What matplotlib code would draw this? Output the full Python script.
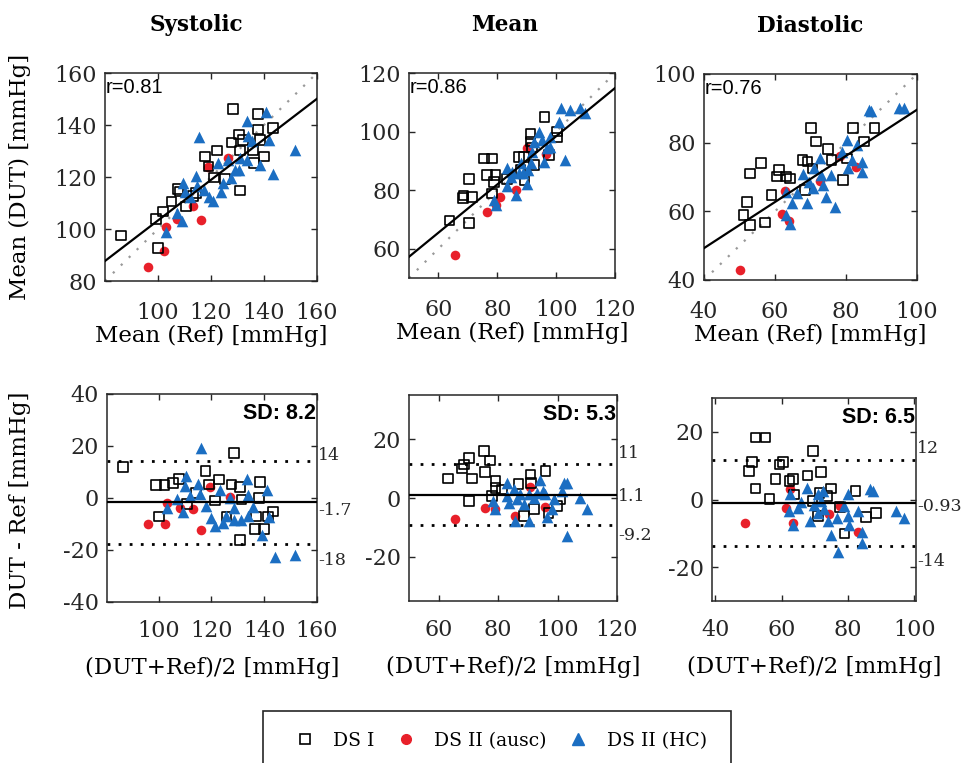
import matplotlib
matplotlib.use("Agg")
import matplotlib.pyplot as plt
from matplotlib.lines import Line2D
from matplotlib.patches import Rectangle

plt.rcParams['font.family'] = ['DejaVu Serif']
plt.rcParams['axes.unicode_minus'] = False

# ---------------- data ----------------
# Systolic: correlation (Ref vs DUT)
sys_ds1_ref = [86.0, 100.1, 99.2, 102.0, 105.1, 107.6, 110.5, 114.3, 117.7, 119.0, 121.1, 122.3, 125.2, 128.4,
               127.7, 130.6, 130.9, 130.9, 132.1, 135.9, 136.2, 137.8, 137.8, 139.9, 143.4, 138.4, 108.3, 113.3]
sys_ds1_dut = [97.5, 92.6, 103.8, 106.7, 110.6, 115.3, 108.7, 113.8, 127.9, 124.0, 119.8, 130.2, 119.2, 146.1,
               133.3, 136.3, 130.2, 114.8, 134.3, 130.2, 125.3, 144.3, 138.2, 127.9, 138.8, 134.3, 114.4, 112.8]
sys_au_ref = [96.1, 102.2, 103.0, 107.3, 113.3, 116.1, 119.0, 126.5]
sys_au_dut = [85.3, 91.6, 100.7, 103.8, 108.7, 103.5, 123.8, 127.3]
sys_hc_ref = [103.0, 107.0, 109.0, 109.5, 110.2, 112.0, 114.5, 114.9, 115.5, 117.4, 119.4, 120.6, 122.5, 123.8,
              124.6, 126.3, 127.7, 130.6, 133.4, 133.6, 134.0, 135.3, 138.4, 140.9, 141.9, 143.4, 151.6, 130.9, 129.0]
sys_hc_dut = [99.0, 106.0, 102.9, 117.6, 114.4, 112.5, 120.2, 116.4, 135.4, 115.0, 112.5, 110.6, 125.3, 114.4,
              117.6, 126.6, 119.6, 122.8, 141.4, 126.6, 135.6, 133.7, 124.7, 144.9, 134.3, 121.2, 130.5, 127.3, 122.8]

# Mean: correlation
mean_ds1_ref = [63.7, 68.5, 68.3, 71.5, 70.4, 70.4, 75.5, 78.3, 76.4, 79.4, 78.9, 78.3, 87.3, 89.0, 89.2, 91.3,
                91.3, 92.4, 96.0, 97.5, 100.3, 100.3, 87.9, 83.4, 91.8]
mean_ds1_dut = [69.6, 78.2, 77.3, 77.6, 83.9, 68.7, 90.8, 90.8, 85.1, 85.1, 82.8, 78.8, 91.4, 91.4, 83.4, 96.6,
                99.2, 88.5, 104.9, 92.0, 100.0, 98.0, 86.8, 83.9, 94.6]
mean_au_ref = [65.7, 76.4, 79.4, 80.9, 86.2, 90.1, 96.7]
mean_au_dut = [57.8, 72.7, 74.8, 77.6, 79.9, 94.3, 92.3]
mean_hc_ref = [78.9, 79.4, 83.4, 83.4, 84.5, 86.2, 87.3, 87.9, 90.1, 90.4, 91.3, 91.8, 94.1, 95.2, 95.8, 96.9,
               98.0, 98.0, 101.0, 101.8, 102.9, 104.8, 108.2, 109.9, 92.4, 88.8, 85.1]
mean_hc_dut = [76.7, 74.8, 81.3, 87.7, 84.5, 78.2, 85.7, 89.1, 82.2, 86.8, 89.1, 93.1, 100.0, 97.1, 89.7, 94.3,
               94.8, 98.3, 103.4, 108.0, 90.3, 107.5, 108.0, 106.5, 96.6, 85.7, 86.2]

# Diastolic: correlation
dia_ds1_ref = [51.1, 52.1, 53.0, 53.0, 56.1, 57.1, 59.0, 60.5, 61.2, 63.1, 64.3, 67.7, 70.1, 71.6, 69.2, 75.0,
               75.9, 79.1, 80.3, 82.0, 85.1, 88.0, 70.6, 68.5]
dia_ds1_dut = [58.9, 62.8, 56.0, 71.0, 74.0, 56.7, 64.7, 70.1, 72.0, 70.1, 69.6, 74.9, 84.2, 80.3, 74.5, 78.1,
               74.9, 69.1, 75.4, 84.2, 80.3, 84.2, 72.5, 66.2]
dia_au_ref = [50.1, 62.1, 62.9, 63.9, 72.6, 78.2, 82.7]
dia_au_dut = [42.8, 59.2, 66.0, 57.2, 68.9, 76.1, 73.0]
dia_hc_ref = [63.1, 64.3, 63.1, 64.8, 66.3, 67.9, 68.9, 69.7, 70.6, 71.1, 72.6, 73.5, 74.5, 75.9, 76.9, 78.8,
              80.3, 80.5, 81.7, 83.2, 84.6, 84.6, 86.6, 87.1, 94.8, 96.2, 73.0]
dia_hc_dut = [58.9, 56.2, 65.7, 62.3, 65.2, 71.0, 62.3, 68.6, 66.7, 72.5, 75.4, 67.6, 64.2, 70.6, 61.3, 77.4,
              80.8, 72.5, 74.9, 79.3, 74.4, 71.5, 89.5, 89.3, 90.0, 90.0, 70.6]

# Bland-Altman: (DUT+Ref)/2 and DUT - Ref
sys_ds1_avg = [86.5, 99.1, 102.3, 105.4, 107.7, 100.1, 110.8, 117.8, 119.1, 122.9, 121.3, 128.5, 127.6, 130.8,
               131.4, 138.4, 138.1, 136.8, 136.5, 139.9, 143.4, 141.5, 130.8, 125.7, 114.3]
sys_ds1_dif = [12.0, 4.9, 4.9, 5.8, 7.4, -7.1, -2.2, 10.3, 5.2, 7.1, -0.9, 17.2, 5.2, 4.3,
               -0.6, 6.1, 0.0, -7.1, -12.0, -12.0, -5.2, -7.1, -16.1, -7.1, 1.9]
sys_au_avg = [96.2, 102.3, 103.2, 108.0, 113.0, 116.2, 119.4, 127.0]
sys_au_dif = [-9.9, -9.9, -1.9, -3.9, -4.3, -12.3, 4.3, 0.4]
sys_hc_avg = [103.2, 107.0, 109.2, 110.3, 109.9, 111.8, 114.9, 115.8, 116.2, 117.8, 120.0, 121.3, 123.2, 124.4,
              125.7, 127.0, 128.5, 128.5, 131.4, 133.5, 133.9, 133.9, 135.6, 139.0, 140.9, 141.9, 144.1, 151.6]
sys_hc_dif = [-3.9, -0.4, -5.5, 8.4, 4.5, 0.6, 5.2, 1.7, 19.4, -3.0, -7.7, -10.7, 3.2, -9.7,
              -7.1, 0.0, -3.9, -8.4, -8.4, 7.4, 1.3, -7.1, -3.5, -14.2, 3.2, -7.4, -22.6, -21.9]

mean_ds1_avg = [63.2, 67.9, 68.5, 70.1, 71.3, 70.1, 75.2, 77.3, 75.5, 79.1, 79.1, 77.9, 81.3, 86.9, 90.9, 91.1,
                92.0, 88.6, 95.9, 97.0, 99.8, 100.9]
mean_ds1_dif = [6.6, 10.0, 11.4, 13.6, 6.6, -1.0, 15.9, 12.7, 8.9, 5.7, 3.5, 0.7, 2.9, 4.8, 8.0, 5.2,
                -3.8, -6.1, 9.1, -5.0, -2.7, -0.5]
mean_au_avg = [65.4, 75.7, 79.1, 85.8, 90.6, 95.9]
mean_au_dif = [-7.2, -3.3, -3.8, -6.1, 3.7, -3.0]
mean_hc_avg = [78.3, 79.1, 83.0, 83.0, 83.6, 85.8, 87.5, 88.6, 90.3, 90.3, 94.2, 95.1, 95.9, 96.5, 98.2, 98.7,
               101.5, 102.3, 103.2, 103.2, 107.7, 109.9, 86.4, 92.0, 93.1, 85.3]
mean_hc_dif = [-1.0, -3.8, 5.2, 0.7, -1.6, -7.8, 1.2, -1.9, -7.8, 1.2, 6.0, 2.4, 1.2, -6.6, -3.8, -0.5,
               2.4, 5.2, 5.2, -12.8, 0.1, -3.8, -0.5, 0.1, 1.8, 2.9]

dia_ds1_avg = [50.1, 51.1, 52.1, 55.1, 52.1, 56.3, 58.2, 59.4, 60.4, 62.4, 63.5, 63.8, 67.8, 69.5, 71.9, 71.4,
               74.9, 69.3, 70.9, 77.5, 79.0, 82.3, 85.4, 88.4, 73.6]
dia_ds1_dif = [8.4, 11.1, 18.3, 18.3, 3.2, 0.2, 6.1, 10.4, 11.1, 5.4, 6.1, 1.5, 7.1, 14.3, 8.1, 2.0,
               3.2, -0.5, -4.9, -2.2, -10.1, 2.5, -5.1, -3.9, 1.0]
dia_au_avg = [49.0, 61.2, 62.4, 63.5, 74.4, 77.5, 83.0]
dia_au_dif = [-6.9, -2.5, 3.0, -6.9, -4.4, -2.0, -9.7]
dia_hc_avg = [62.4, 62.2, 63.5, 64.8, 65.8, 67.5, 68.5, 69.8, 70.9, 70.9, 72.6, 72.9, 73.9, 74.9, 76.6, 77.0,
              78.7, 80.0, 80.0, 80.3, 83.0, 84.1, 84.1, 86.6, 87.6, 94.5, 96.8, 71.9]
dia_hc_dif = [1.5, -3.5, -7.4, -2.5, -0.8, 3.5, -6.4, -1.5, 1.5, -3.9, 2.5, -2.8, -6.4, -10.4, -5.4, -15.6,
              -2.0, 1.5, -4.9, -7.4, -3.5, -9.7, -12.8, 3.2, 2.5, -3.5, -5.4, -0.5]

# statistics shown in the figure
titles = ['Systolic', 'Mean', 'Diastolic']
r_values = ['0.81', '0.86', '0.76']
fit_slope = [0.78, 0.823, 0.672]
fit_icept = [25.3, 16.1, 22.4]
bias = [-1.7, 1.1, -0.93]
sd = [8.2, 5.3, 6.5]
loa_hi = [14.4, 11.5, 11.8]
loa_lo = [-17.8, -9.3, -13.7]
right_labels = [['14', '-1.7', '-18'], ['11', '1.1', '-9.2'], ['12', '-0.93', '-14']]

# ---------------- styling / layout ----------------
BLUE = '#1b6ec2'
RED = '#e8202a'
W, H = 964, 763

def frac(l, r, t, b):
    return [l / W, 1 - b / H, (r - l) / W, (b - t) / H]

top_pos = [frac(105, 317, 73, 281), frac(409, 615, 73, 278), frac(704, 917, 74, 280)]
bot_pos = [frac(107, 317, 394, 602), frac(409, 617, 395, 601), frac(712, 916, 398, 601)]
title_x = [0.43, 0.465, 0.5]
top_lims = [(80, 160), (50, 120), (40, 100)]
top_xt = [[100, 120, 140, 160], [60, 80, 100, 120], [40, 60, 80, 100]]
top_yt = [[80, 100, 120, 140, 160], [60, 80, 100, 120], [40, 60, 80, 100]]
bot_xlim = [(80.5, 160), (50, 120), (39, 100.5)]
bot_ylim = [(-40, 40), (-35, 35), (-30, 30)]
bot_yt = [[-40, -20, 0, 20, 40], [-20, 0, 20], [-20, 0, 20]]
right_label_pos = [[0.706, 0.441, 0.201], [0.717, 0.506, 0.320], [0.753, 0.465, 0.194]]

corr = [
    (sys_ds1_ref, sys_ds1_dut, sys_au_ref, sys_au_dut, sys_hc_ref, sys_hc_dut),
    (mean_ds1_ref, mean_ds1_dut, mean_au_ref, mean_au_dut, mean_hc_ref, mean_hc_dut),
    (dia_ds1_ref, dia_ds1_dut, dia_au_ref, dia_au_dut, dia_hc_ref, dia_hc_dut),
]
ba = [
    (sys_ds1_avg, sys_ds1_dif, sys_au_avg, sys_au_dif, sys_hc_avg, sys_hc_dif),
    (mean_ds1_avg, mean_ds1_dif, mean_au_avg, mean_au_dif, mean_hc_avg, mean_hc_dif),
    (dia_ds1_avg, dia_ds1_dif, dia_au_avg, dia_au_dif, dia_hc_avg, dia_hc_dif),
]


def style_axes(ax, xpad):
    for s in ax.spines.values():
        s.set_linewidth(1.1)
        s.set_color('#262626')
    ax.tick_params(direction='in', top=True, right=True, length=4, width=1,
                   color='#262626', labelsize=16, labelcolor='#262626')
    ax.tick_params(axis='x', pad=xpad)
    ax.tick_params(axis='y', pad=6)


def draw_points(ax, d):
    x1, y1, x2, y2, x3, y3 = d
    ax.scatter(x2, y2, s=48, marker='o', color=RED, linewidths=0, zorder=3)
    ax.scatter(x1, y1, s=48, marker='s', facecolors='none', edgecolors='black', linewidths=1.2, zorder=4)
    ax.scatter(x3, y3, s=70, marker='^', color=BLUE, linewidths=0, zorder=5)


fig = plt.figure(figsize=(W / 100, H / 100), dpi=100)

for i in range(3):
    ax = fig.add_axes(top_pos[i])
    lo, hi = top_lims[i]
    ax.plot([lo, hi], [lo, hi], color='#999999', linestyle=(0, (1, 4)), lw=1.6, zorder=2)
    ax.plot([lo, hi], [fit_slope[i] * lo + fit_icept[i], fit_slope[i] * hi + fit_icept[i]],
            color='black', lw=1.6, zorder=6)
    draw_points(ax, corr[i])
    ax.set_xlim(lo, hi)
    ax.set_ylim(lo, hi)
    ax.set_xticks(top_xt[i])
    ax.set_yticks(top_yt[i])
    style_axes(ax, 15)
    ax.set_title(titles[i], fontsize=15.5, fontweight='bold', pad=30)
    ax.title.set_x(title_x[i])
    ax.set_xlabel('Mean (Ref) [mmHg]', fontsize=16.5, labelpad=1)
    ax.text(0.005, 0.975, 'r=' + r_values[i], transform=ax.transAxes, ha='left', va='top',
            fontsize=14.5, family='Liberation Sans', zorder=7)

    bx = fig.add_axes(bot_pos[i])
    bx.axhline(bias[i], color='black', lw=1.6, zorder=6)
    bx.axhline(loa_hi[i], color='black', lw=2, linestyle=(0, (1, 3)), zorder=2)
    bx.axhline(loa_lo[i], color='black', lw=2, linestyle=(0, (1, 3)), zorder=2)
    draw_points(bx, ba[i])
    bx.set_xlim(*bot_xlim[i])
    bx.set_ylim(*bot_ylim[i])
    bx.set_xticks(top_xt[i])
    bx.set_yticks(bot_yt[i])
    style_axes(bx, 13)
    bx.set_xlabel('(DUT+Ref)/2 [mmHg]', fontsize=16.5, labelpad=11)
    bx.text(0.995, 0.955, 'SD: %.1f' % sd[i], transform=bx.transAxes, ha='right', va='top',
            fontsize=15.5, fontweight='bold', family='Liberation Sans', zorder=7)
    for lab, yp in zip(right_labels[i], right_label_pos[i]):
        bx.text(1.006, yp, lab, transform=bx.transAxes, ha='left', va='center',
                fontsize=12.5, color='#262626')

fig.text(20 / W, 1 - 177 / H, 'Mean (DUT) [mmHg]', rotation=90, ha='center', va='center', fontsize=16.5)
fig.text(20 / W, 1 - 500 / H, 'DUT - Ref [mmHg]', rotation=90, ha='center', va='center', fontsize=16.5)

# legend: frame drawn separately so it matches the reference box
fig.patches.append(Rectangle((263 / W, 1 - 775 / H), (731 - 263) / W, (775 - 711) / H,
                             transform=fig.transFigure, fill=False, edgecolor='#262626', lw=1.2))
handles = [
    Line2D([], [], marker='s', linestyle='none', markerfacecolor='none', markeredgecolor='black',
           markeredgewidth=1.2, markersize=7),
    Line2D([], [], marker='o', linestyle='none', color=RED, markersize=7),
    Line2D([], [], marker='^', linestyle='none', color=BLUE, markersize=8),
]
fig.legend(handles, ['DS I', 'DS II (ausc)', 'DS II (HC)'], loc='center',
           bbox_to_anchor=(500 / W, 1 - 741 / H), ncol=3, fontsize=13.5, frameon=False,
           handlelength=1.2, handletextpad=0.9, columnspacing=1.1)

fig.savefig('out.png', dpi=100)
